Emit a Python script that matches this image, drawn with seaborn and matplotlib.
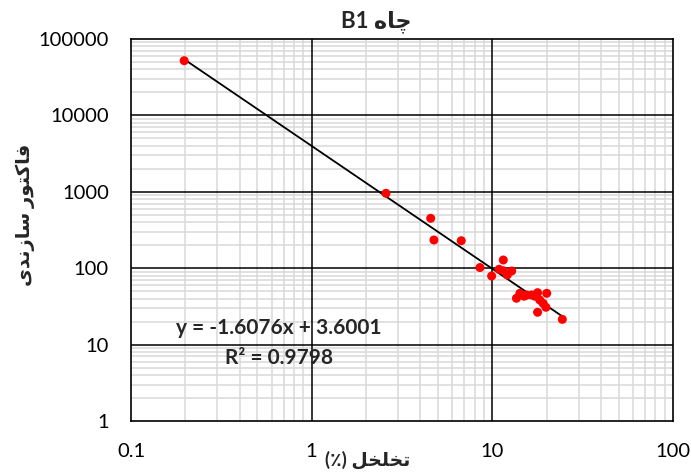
import numpy as np
import pandas as pd
import matplotlib
matplotlib.use("Agg")
import matplotlib.pyplot as plt
import seaborn as sns
from matplotlib.ticker import LogLocator, FixedLocator, NullFormatter

# ---- data ----
porosity = [0.197, 2.58, 4.56, 4.75, 6.73, 8.54, 9.91, 10.9, 11.5, 11.5, 12.1,
            12.8, 13.6, 14.2, 15.0, 15.5, 16.5, 17.2, 17.8, 20.0, 18.3, 19.1,
            19.8, 17.8, 24.4]
factor = [52000, 955, 450, 234, 229, 102, 79, 96.8, 128, 92.7, 81.5,
          91.9, 40.4, 46.9, 43.0, 44.6, 44.6, 43.0, 47.8, 46.9, 38.4, 34.7,
          30.8, 26.5, 21.4]
slope = -1.6076
intercept = 3.6001
r2 = 0.9798
x_ticks = [0.1, 1, 10, 100]
x_tick_labels = ["0.1", "1", "10", "100"]
y_ticks = [1, 10, 100, 1000, 10000, 100000]
y_tick_labels = ["1", "10", "100", "1000", "10000", "100000"]

# Arabic-script texts (visual order, contextual presentation forms)
title_text = "B1 " + "\uFEE9\uFE8E\uFB7C"                     # چاه B1
xlabel_text = "(\u066A) " + "\uFEDE\uFEA8\uFEE0\uFEA8\uFE97"  # تخلخل (٪)
ylabel_text = ("\uFBFC\uFEAA\uFEE7\uFEAF\uFE8E\uFEB3 "
               "\uFEAD\uFEEE\uFE98\uFB90\uFE8E\uFED3")        # فاکتور سازندی

sns.set_theme(style="white")
fams = ["Lato", "DejaVu Sans"]
plt.rcParams["font.family"] = fams

df = pd.DataFrame({"porosity": porosity, "factor": factor})
xl = np.array([min(porosity), max(porosity)])
line_df = pd.DataFrame({"porosity": xl, "factor": 10 ** intercept * xl ** slope})

fig = plt.figure(figsize=(6.91, 4.72), dpi=100)
ax = fig.add_axes([131 / 691, 1 - 421 / 472, 542 / 691, 382 / 472])
ax.set_xscale("log")
ax.set_yscale("log")
ax.set_xlim(0.1, 100)
ax.set_ylim(1, 100000)

ax.xaxis.set_major_locator(FixedLocator(x_ticks))
ax.yaxis.set_major_locator(FixedLocator(y_ticks))
ax.xaxis.set_minor_locator(LogLocator(base=10, subs=np.arange(2, 10)))
ax.yaxis.set_minor_locator(LogLocator(base=10, subs=np.arange(2, 10)))
ax.xaxis.set_minor_formatter(NullFormatter())
ax.yaxis.set_minor_formatter(NullFormatter())
ax.set_xticklabels(x_tick_labels)
ax.set_yticklabels(y_tick_labels)

# light minor grid (below), dark major grid drawn on top of it
ax.grid(which="minor", color="#d9d9d9", linewidth=1.1)
ax.grid(which="major", visible=False)
ax.set_axisbelow(True)
for v in x_ticks[1:-1]:
    ax.axvline(v, color="black", linewidth=1.1, zorder=1)
for v in y_ticks[1:-1]:
    ax.axhline(v, color="black", linewidth=1.1, zorder=1)
for s in ax.spines.values():
    s.set_color("black")
    s.set_linewidth(1.2)
ax.tick_params(which="both", length=0)
ax.tick_params(axis="x", pad=16, labelsize=14.5, labelcolor="black")
ax.tick_params(axis="y", pad=16, labelsize=14.5, labelcolor="black")

sns.lineplot(data=line_df, x="porosity", y="factor", color="black",
             linewidth=1.3, ax=ax, zorder=3)
sns.scatterplot(data=df, x="porosity", y="factor", color="#ff0000",
                s=42, edgecolor="none", ax=ax, zorder=4)

ax.set_xlabel(xlabel_text, fontsize=13.5, fontweight="bold", family=fams)
ax.set_ylabel(ylabel_text, fontsize=14, fontweight="bold", family=fams)
ax.xaxis.set_label_coords((368 - 131) / 542, (421 - 460) / 382)
ax.yaxis.set_label_coords((25 - 131) / 542, (421 - 215) / 382)
ax.xaxis.label.set_va("center")
ax.yaxis.label.set_va("center")

ax.text((376 - 131) / 542, (421 - 22) / 382, title_text, transform=ax.transAxes,
        ha="center", va="center", fontsize=16, fontweight="bold", family=fams)

ax.text((279 - 131) / 542, (421 - 328) / 382,
        f"y = {slope}x + {intercept:.4f}", transform=ax.transAxes,
        ha="center", va="center", fontsize=15, fontweight="bold")
ax.text((279 - 131) / 542, (421 - 358) / 382,
        f"R\u00b2 = {r2}", transform=ax.transAxes,
        ha="center", va="center", fontsize=15, fontweight="bold")

fig.savefig("out.png", dpi=100)
